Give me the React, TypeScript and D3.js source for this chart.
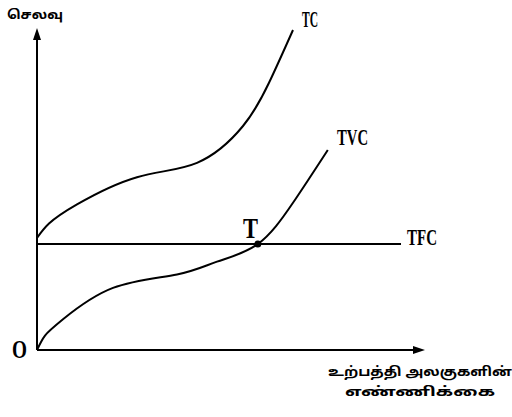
import React from "react";
import * as d3 from "d3";

// Quantity (x) and cost (y) readings for each curve, in chart units
const tcQuantity = [0, 3, 10, 25, 40, 51.5, 58, 64];
const tcCost = [35, 39.5, 45.5, 54, 58.5, 70, 83.5, 100];

const tvcQuantity = [0, 2, 6.5, 19, 35, 45, 55.2, 64, 72.7];
const tvcCost = [0, 4.5, 9.6, 19.4, 23.6, 27.6, 33.1, 46, 62.5];

const tfcQuantity = [0, 91];
const tfcCost = [33.1, 33.1];

const pointT = { q: 55.2, c: 33.1 };

const yAxisLabel = "செலவு";
const xAxisLabelLines = ["உற்பத்தி அலகுகளின்", "எண்ணிக்கை"];
const curveNames = ["TC", "TVC", "TFC"];

export default function App() {
  const width = 512;
  const height = 417;
  const x = d3.scaleLinear().domain([0, 100]).range([37, 437]);
  const y = d3.scaleLinear().domain([0, 100]).range([350, 30]);

  const line = d3
    .line<[number, number]>()
    .x((d) => x(d[0]))
    .y((d) => y(d[1]))
    .curve(d3.curveNatural);

  const tc = line(tcQuantity.map((q, i) => [q, tcCost[i]]) as [number, number][]);
  const tvc = line(tvcQuantity.map((q, i) => [q, tvcCost[i]]) as [number, number][]);
  const tfc = d3
    .line<[number, number]>()
    .x((d) => x(d[0]))
    .y((d) => y(d[1]))(tfcQuantity.map((q, i) => [q, tfcCost[i]]) as [number, number][]);

  const x0 = x(0);
  const y0 = y(0);
  const xEnd = 425;
  const yTop = 28;

  const serif = "'Liberation Serif', 'DejaVu Serif', serif";
  const tamil = "'Noto Sans Tamil', 'Lohit Tamil', 'Noto Sans', sans-serif";

  return (
    <svg
      width={width}
      height={height}
      style={{ position: "absolute", left: 0, top: 0, background: "#fff" }}
    >
      <rect x={0} y={0} width={width} height={height} fill="#fff" />
      {/* axes */}
      <line x1={x0} y1={y0} x2={x0} y2={yTop + 8} stroke="#000" strokeWidth={2} />
      <path d={`M${x0 - 4},${yTop + 12} L${x0},${yTop} L${x0 + 4},${yTop + 12} Z`} fill="#000" />
      <line x1={x0} y1={y0} x2={xEnd - 8} y2={y0} stroke="#000" strokeWidth={2} />
      <path d={`M${xEnd - 12},${y0 - 4} L${xEnd},${y0} L${xEnd - 12},${y0 + 4} Z`} fill="#000" />

      {/* curves */}
      <path d={tfc || ""} fill="none" stroke="#000" strokeWidth={2} />
      <path d={tc || ""} fill="none" stroke="#000" strokeWidth={2} />
      <path d={tvc || ""} fill="none" stroke="#000" strokeWidth={2} />
      <circle cx={x(pointT.q)} cy={y(pointT.c)} r={3.5} fill="#000" />

      {/* labels */}
      <text x={302} y={27} fontFamily={serif} fontWeight="bold" fontSize={23} textLength={16} lengthAdjust="spacingAndGlyphs">
        {curveNames[0]}
      </text>
      <text x={337} y={145} fontFamily={serif} fontWeight="bold" fontSize={23} textLength={31} lengthAdjust="spacingAndGlyphs">
        {curveNames[1]}
      </text>
      <text x={407} y={245} fontFamily={serif} fontWeight="bold" fontSize={24} textLength={30} lengthAdjust="spacingAndGlyphs">
        {curveNames[2]}
      </text>
      <text x={243} y={238} fontFamily={serif} fontWeight="bold" fontSize={29} textLength={15} lengthAdjust="spacingAndGlyphs">
        T
      </text>
      <text x={12} y={358} fontFamily={serif} fontWeight="bold" fontSize={26} textLength={15} lengthAdjust="spacingAndGlyphs">
        O
      </text>
      <text x={7} y={19} fontFamily={tamil} fontWeight="bold" fontSize={13} textLength={56} lengthAdjust="spacingAndGlyphs">
        {yAxisLabel}
      </text>
      <text x={328} y={376} fontFamily={tamil} fontWeight="bold" fontSize={13} textLength={184} lengthAdjust="spacingAndGlyphs">
        {xAxisLabelLines[0]}
      </text>
      <text x={345} y={396} fontFamily={tamil} fontWeight="bold" fontSize={13} textLength={150} lengthAdjust="spacingAndGlyphs">
        {xAxisLabelLines[1]}
      </text>
    </svg>
  );
}
